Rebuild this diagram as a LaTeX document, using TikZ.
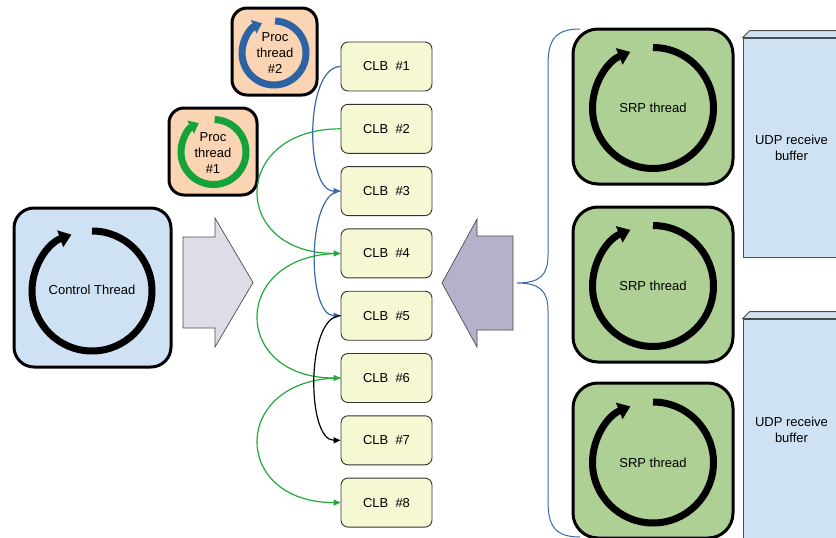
\documentclass[tikz,border=0pt]{standalone}
\usepackage{fontspec}
\setmainfont{Liberation Sans}
\usetikzlibrary{arrows.meta}
\definecolor{ctrlfill}{HTML}{CFE2F3}
\definecolor{peach}{HTML}{FBD4B4}
\definecolor{procblue}{HTML}{2E63A3}
\definecolor{procgreen}{HTML}{13A33A}
\definecolor{clbfill}{HTML}{F6F8D3}
\definecolor{srpfill}{HTML}{AFD095}
\definecolor{greyarrow}{HTML}{DDDCE7}
\definecolor{purplearrow}{HTML}{B4B1CA}
\definecolor{udpfill}{HTML}{CFE2F3}
\definecolor{linkblue}{HTML}{3A68A8}
\definecolor{linkgreen}{HTML}{22A83C}
\definecolor{braceblue}{HTML}{3A68A8}
\begin{document}
\begin{tikzpicture}[x=1pt,y=1pt,
  font=\fontsize{13}{16}\selectfont,
  thread/.style={draw=black, line width=3pt, inner sep=0pt},
  clb/.style={draw=black!80, line width=0.9pt, fill=clbfill, rounded corners=7pt,
    minimum width=91pt, minimum height=49pt, inner sep=0pt},
  loopline/.style={line width=7pt, -{Triangle[length=12pt,width=17pt]}},
  proclooop/.style={line width=7pt, -{Triangle[length=9pt,width=14pt]}},
  link/.style={line width=1.2pt, -{Triangle[length=7pt,width=6pt]}},
  bigarrow/.style={draw=black!70, line width=0.7pt},
  buffer/.style={draw=black!70, line width=0.8pt, fill=udpfill}]
\useasboundingbox (0,0) rectangle (836,-538);

% control thread
\node[thread, fill=ctrlfill, rounded corners=20pt, minimum width=157pt, minimum height=159pt] (ctrl) at (92.5,-287.5) {};
\node (ctrltext) at (92,-290) {Control Thread};
\draw[loopline] (92,-291) ++(90:60pt) arc[start angle=90,end angle=-250,radius=60pt];

% proc threads
\node[thread, fill=peach, rounded corners=15pt, minimum width=85pt, minimum height=87pt] (proc2) at (274.5,-51.5) {};
\node[align=center] (proc2text) at (275,-53.5) {Proc\\thread\\\#2};
\draw[proclooop, draw=procblue] (274,-53) ++(88:32pt) arc[start angle=88,end angle=-248,radius=32pt];
\node[thread, fill=peach, rounded corners=15pt, minimum width=88pt, minimum height=87pt] (proc1) at (213,-151.5) {};
\node[align=center] (proc1text) at (213,-153.5) {Proc\\thread\\\#1};
\draw[proclooop, draw=procgreen] (213.5,-152) ++(88:32.5pt) arc[start angle=88,end angle=-243,radius=32.5pt];

% big arrows
\draw[bigarrow, fill=greyarrow] (183,-237) -- (215,-237) -- (215,-218) -- (253,-282.5) -- (215,-347) -- (215,-328) -- (183,-328) -- cycle;
\draw[bigarrow, fill=purplearrow] (513,-236) -- (477,-236) -- (477,-219) -- (442,-283) -- (477,-347) -- (477,-330) -- (513,-330) -- cycle;

% CLBs
\foreach \k in {1,...,8}
  \node[clb] (clb\k) at (386.5,{-66.5-62.3*(\k-1)}) {CLB\ \ \#\k};

\draw[link, linkblue] (clb1.west) to[out=180,in=180,looseness=0.74] (clb3.west);
\draw[link, linkblue] (clb3.west) to[out=180,in=180,looseness=0.7] (clb5.west);
\draw[link, linkgreen] (clb2.west) to[out=180,in=180,looseness=2.27] (clb4.west);
\draw[link, linkgreen] (clb4.west) to[out=180,in=180,looseness=2.27] (clb6.west);
\draw[link, linkgreen] (clb6.west) to[out=180,in=180,looseness=2.27] (clb8.west);
\draw[link, black] (clb5.west) to[out=180,in=180,looseness=0.71] (clb7.west);

% brace
\draw[braceblue, line width=1pt] (580,-29) .. controls (555,-29) and (548,-40) .. (548,-65) -- (548,-255)
  .. controls (548,-275) and (540,-283) .. (517,-283)
  .. controls (540,-283) and (548,-291) .. (548,-311) -- (548,-501)
  .. controls (548,-526) and (555,-537) .. (580,-537);

% SRP threads
\foreach \i/\y/\c in {1/-106.5/-108,2/-284.5/-286,3/-460.5/-462.5} {
  \node[thread, fill=srpfill, rounded corners=25pt, minimum width=160pt, minimum height=155pt] (srp\i) at (653,\y) {};
  \node (srptext\i) at (653,\c) {SRP thread};
  \draw[loopline] (653,\c) ++(90:60.5pt) arc[start angle=90,end angle=-248,radius=60.5pt];
}

% UDP buffers
\node[buffer, minimum width=97pt, minimum height=219pt, align=center, inner sep=0pt] (udp1) at (791.5,-147.5) {UDP receive\\buffer};
\draw[buffer] (udp1.north west) -- ++(7,7) -- ++(97,0) -- (udp1.north east) -- cycle;
\node[buffer, minimum width=97pt, minimum height=222pt, align=center, inner sep=0pt] (udp2) at (791.5,-430) {UDP receive\\buffer};
\draw[buffer] (udp2.north west) -- ++(7,7) -- ++(97,0) -- (udp2.north east) -- cycle;
\end{tikzpicture}
\end{document}
